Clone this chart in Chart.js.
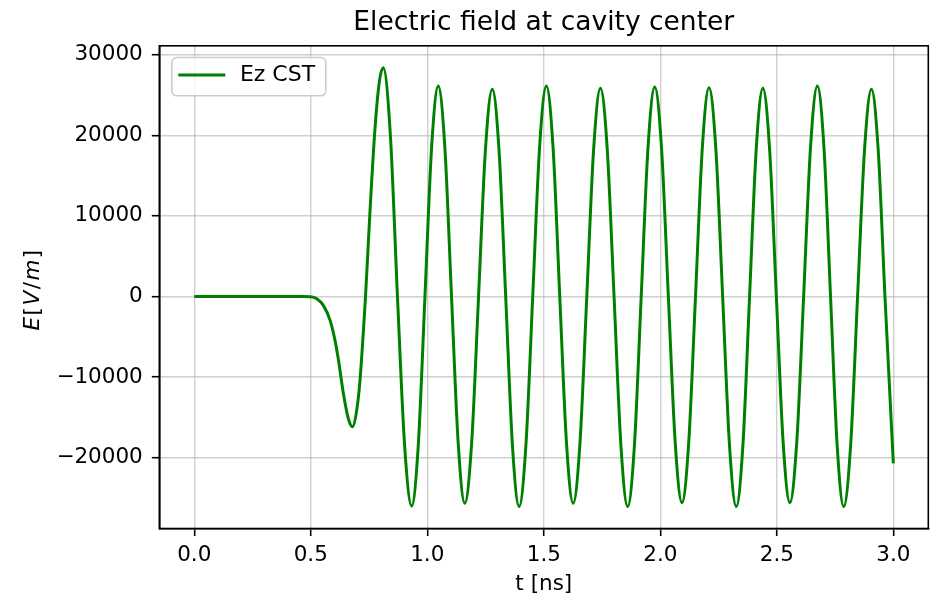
<!DOCTYPE html>
<html>
<head>
<meta charset="utf-8">
<script src="https://cdn.jsdelivr.net/npm/chart.js@4.4.1/dist/chart.umd.min.js"></script>
<style>
  html, body { margin: 0; padding: 0; background: #fff; }
</style>
</head>
<body>
<canvas id="chart" width="936" height="602"></canvas>
<script>
// values (t in ns, Ez in V/m)
const timeNs = [
  0, 0.1, 0.2, 0.3, 0.4, 0.46, 0.5, 0.526, 0.554, 0.583, 0.604, 0.619, 0.64, 0.661,
  0.679, 0.697, 0.711, 0.726, 0.735, 0.754, 0.776, 0.795, 0.811,
  0.8415, 0.872, 0.9025, 0.933, 0.9615, 0.99, 1.0185, 1.047,
  1.0755, 1.104, 1.1325, 1.161, 1.1905, 1.22, 1.2495, 1.279,
  1.3078, 1.3365, 1.3653, 1.394, 1.4233, 1.4525, 1.4818, 1.511,
  1.5398, 1.5685, 1.5973, 1.626, 1.6553, 1.6845, 1.7138, 1.743,
  1.7723, 1.8015, 1.8308, 1.86, 1.889, 1.918, 1.947, 1.976,
  2.0053, 2.0345, 2.0638, 2.093, 2.122, 2.151, 2.18, 2.209,
  2.2383, 2.2675, 2.2968, 2.326, 2.3545, 2.383, 2.4115, 2.44,
  2.469, 2.498, 2.527, 2.556, 2.5855, 2.615, 2.6445, 2.674,
  2.7023, 2.7305, 2.7588, 2.787, 2.8168, 2.8465, 2.8763, 2.906,
  2.935, 2.964, 3.0
];
const fieldVm = [
  0, 0, 0, 0, 0, 0, -30, -290, -1110, -2970, -5450, -7920, -12040, -15140,
  -16170, -14150, -10500, -4200, 0, 10500, 21000, 26800, 28380,
  20060, 0, -18375, -25990, -18375, 0, 18460, 26110,
  18460, 0, -18140, -25660, -18140, 0, 18170, 25700,
  18170, 0, -18430, -26070, -18430, 0, 18460, 26110,
  18460, 0, -18140, -25660, -18140, 0, 18260, 25830,
  18260, 0, -18430, -26070, -18430, 0, 18375, 25990,
  18375, 0, -18085, -25580, -18085, 0, 18320, 25910,
  18320, 0, -18430, -26070, -18430, 0, 18260, 25830,
  18260, 0, -18085, -25580, -18085, 0, 18460, 26110,
  18460, 0, -18430, -26070, -18430, 0, 18170, 25700,
  18170, 0, -20710
];
const xTicks = [0, 0.5, 1.0, 1.5, 2.0, 2.5, 3.0];
const yTicks = [-20000, -10000, 0, 10000, 20000, 30000];
const seriesLabel = "Ez CST";
const chartTitle = "Electric field at cavity center";
const xLabel = "t [ns]";

const lineColor = "#008000";
const fontFamily = "'DejaVu Sans', sans-serif";
const gridColor = "rgba(176, 176, 176, 0.6)";

// top and right spines, matplotlib style
const framePlugin = {
  id: "frame",
  afterDraw(chart) {
    const { ctx, chartArea: a } = chart;
    ctx.save();
    ctx.strokeStyle = "#000";
    ctx.lineWidth = 1.6;
    ctx.strokeRect(a.left, a.top, a.right - a.left, a.bottom - a.top);
    ctx.restore();
  },
};

// boxed legend in the upper-left corner of the plot
const legendBoxPlugin = {
  id: "legendBox",
  afterDraw(chart) {
    const { ctx, chartArea: a } = chart;
    const x = a.left + 12.5;
    const y = a.top + 11.7;
    ctx.save();
    ctx.beginPath();
    ctx.roundRect(x, y, 154, 38.3, 5);
    ctx.fillStyle = "rgba(255, 255, 255, 0.8)";
    ctx.fill();
    ctx.strokeStyle = "#cccccc";
    ctx.lineWidth = 1.6;
    ctx.stroke();
    ctx.beginPath();
    ctx.moveTo(a.left + 19, a.top + 29.3);
    ctx.lineTo(a.left + 66, a.top + 29.3);
    ctx.strokeStyle = lineColor;
    ctx.lineWidth = 3;
    ctx.stroke();
    ctx.fillStyle = "#000";
    ctx.font = "22px " + fontFamily;
    ctx.textBaseline = "middle";
    ctx.fillText(seriesLabel, a.left + 80.6, a.top + 29);
    ctx.restore();
  },
};

// y label is mathtext in the original: $E[V/m]$, letters italic
const yLabelPlugin = {
  id: "yLabel",
  afterDraw(chart) {
    const { ctx, chartArea: a } = chart;
    const parts = [
      ["E", true], ["[", false], ["V", true], ["/", false], ["m", true], ["]", false],
    ];
    const gap = 1.5;
    ctx.save();
    ctx.translate(33, (a.top + a.bottom) / 2 + 3);
    ctx.rotate(-Math.PI / 2);
    ctx.fillStyle = "#000";
    ctx.textBaseline = "middle";
    let total = 0;
    parts.forEach(([s, it]) => {
      ctx.font = (it ? "italic " : "") + "21.5px " + fontFamily;
      total += ctx.measureText(s).width + gap;
    });
    let pos = -(total - gap) / 2;
    parts.forEach(([s, it]) => {
      ctx.font = (it ? "italic " : "") + "21.5px " + fontFamily;
      ctx.fillText(s, pos, 0);
      pos += ctx.measureText(s).width + gap;
    });
    ctx.restore();
  },
};

const points = timeNs.map((t, i) => ({ x: t, y: fieldVm[i] }));

const config = {
  type: "line",
  data: {
    datasets: [
      {
        label: seriesLabel,
        data: points,
        borderColor: lineColor,
        backgroundColor: lineColor,
        borderWidth: 3,
        pointRadius: 0,
        cubicInterpolationMode: "monotone",
        fill: false,
      },
    ],
  },
  options: {
    responsive: false,
    animation: false,
    devicePixelRatio: 1,
    layout: { padding: { left: 0, right: 7.7, top: 0, bottom: 0 } },
    plugins: {
      legend: { display: false },
      tooltip: { enabled: false },
      title: {
        display: true,
        text: chartTitle,
        fullSize: false,
        color: "#000",
        font: { family: fontFamily, size: 26.5, weight: "normal" },
        padding: { top: 7, bottom: 7 },
      },
    },
    scales: {
      x: {
        type: "linear",
        min: -0.15,
        max: 3.15,
        afterBuildTicks: (scale) => {
          scale.ticks = xTicks.map((v) => ({ value: v }));
        },
        afterFit: (scale) => {
          scale.height = 73.5;
        },
        ticks: {
          color: "#000",
          font: { family: fontFamily, size: 21.5 },
          padding: 7,
          maxRotation: 0,
          callback: (v) => Number(v).toFixed(1),
        },
        grid: {
          color: gridColor,
          lineWidth: 1.4,
          drawTicks: true,
          tickLength: 7.5,
          tickColor: "#000",
          tickWidth: 1.6,
        },
        border: { color: "#000", width: 1.6 },
        title: {
          display: true,
          text: xLabel,
          color: "#000",
          font: { family: fontFamily, size: 21.5 },
          padding: 5,
        },
      },
      y: {
        type: "linear",
        min: -28790,
        max: 31100,
        afterBuildTicks: (scale) => {
          scale.ticks = yTicks.map((v) => ({ value: v }));
        },
        afterFit: (scale) => {
          scale.width = 159.3;
        },
        ticks: {
          color: "#000",
          font: { family: fontFamily, size: 21.5 },
          padding: 9,
          callback: (v) => String(v).replace("-", "\u2212"),
        },
        grid: {
          color: gridColor,
          lineWidth: 1.4,
          drawTicks: true,
          tickLength: 7.5,
          tickColor: "#000",
          tickWidth: 1.6,
        },
        border: { color: "#000", width: 1.6 },
      },
    },
  },
  plugins: [framePlugin, legendBoxPlugin, yLabelPlugin],
};

new Chart(document.getElementById("chart"), config);
</script>
</body>
</html>
